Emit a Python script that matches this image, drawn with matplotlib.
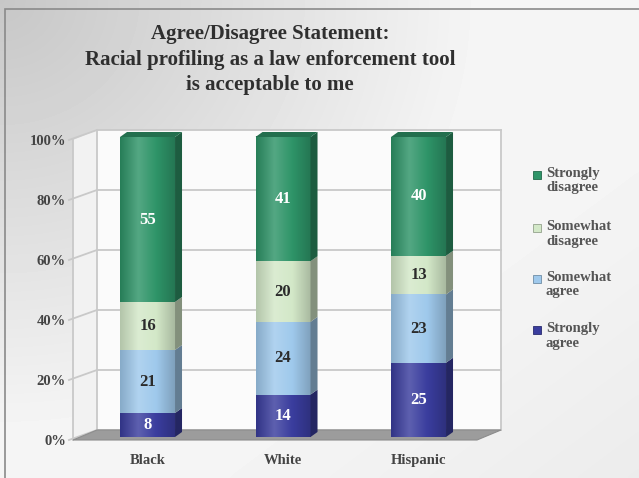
import numpy as np
import matplotlib.pyplot as plt
from matplotlib.colors import LinearSegmentedColormap, to_rgb
from matplotlib.patches import Polygon, Rectangle

# data (percent of respondents)
groups = ['Black', 'White', 'Hispanic']
strongly_agree = [8, 14, 25]
somewhat_agree = [21, 24, 23]
somewhat_disagree = [16, 20, 13]
strongly_disagree = [55, 41, 40]
series_names = ['Strongly\nagree', 'Somewhat\nagree', 'Somewhat\ndisagree', 'Strongly\ndisagree']
series_colors = ['#3a3d9e', '#9fc9ec', '#d3e8c8', '#2e9468']
label_colors = ['white', '#2b2b2b', '#2b2b2b', 'white']
yticks = [0, 20, 40, 60, 80, 100]
title = 'Agree/Disagree Statement:\nRacial profiling as a law enforcement tool\nis acceptable to me'

values = np.array([strongly_agree, somewhat_agree, somewhat_disagree, strongly_disagree], dtype=float)
shares = values / values.sum(axis=0) * 100  # 100% stacked

W, H = 639, 478
fig = plt.figure(figsize=(W / 100, H / 100), dpi=100)
fig.patch.set_facecolor('white')

serif = 'Liberation Serif'

# background gradient panel
bg = fig.add_axes([0, 0, 1, 1], zorder=-5)
gx, gy = np.meshgrid(np.linspace(0, 1, 200), np.linspace(0, 1, 150))
r = np.sqrt((gx / 0.75) ** 2 + (gy / 0.9) ** 2)
shade = 0.78 + 0.18 * np.clip(r, 0, 1) - 0.05 * np.clip(gx + gy - 1.3, 0, 1)
bg.imshow(shade, cmap='gray', vmin=0, vmax=1, extent=(0, 1, 0, 1),
          origin='upper', aspect='auto', interpolation='bicubic')
bg.add_patch(Rectangle((5 / W, -0.1), 1.2, 1.1 - 9 / H, transform=bg.transAxes,
                       fill=False, edgecolor='#8a8a8a', lw=1.2))
bg.set_xlim(0, 1)
bg.set_ylim(0, 1)
bg.axis('off')

# main axes = front plane of the 3d box
x_left, x_right, y_base, y_top = 73, 477, 440, 140
ax = fig.add_axes([x_left / W, (H - y_base) / H, (x_right - x_left) / W, (y_base - y_top) / H])
px_per_cat = 135.5
x0 = -0.55
x1 = x0 + (x_right - x_left) / px_per_cat
ax.set_facecolor('none')
for s in ax.spines.values():
    s.set_visible(False)

py = (y_base - y_top) / 100.0
wdx, wdy = 24 / px_per_cat, 10 / py     # wall depth
bdx, bdy = 7 / px_per_cat, 5 / py       # bar depth
lift = 1.0                              # bars sit slightly back in the box
bar_w = 55 / px_per_cat

# walls
ax.add_patch(Polygon([(x0 + wdx, wdy), (x1 + wdx, wdy), (x1 + wdx, 100 + wdy), (x0 + wdx, 100 + wdy)],
                     closed=True, facecolor='#fbfbfb', edgecolor='none', zorder=0, clip_on=False))
ax.add_patch(Polygon([(x0, 0), (x0 + wdx, wdy), (x0 + wdx, 100 + wdy), (x0, 100)],
                     closed=True, facecolor='#f2f2f2', edgecolor='none', zorder=0, clip_on=False))
grid_col = '#c9c9c9'
for t in yticks:
    ax.plot([x0 + wdx, x1 + wdx], [t + wdy, t + wdy], color=grid_col, lw=1.3, zorder=1, clip_on=False)
    ax.plot([x0 - 0.03, x0 + wdx], [t, t + wdy], color=grid_col, lw=1.3, zorder=1, clip_on=False)
ax.plot([x0, x0], [0, 100], color=grid_col, lw=1.3, zorder=1, clip_on=False)
ax.plot([x0 + wdx, x0 + wdx], [wdy, 100 + wdy], color=grid_col, lw=1.3, zorder=1, clip_on=False)
ax.plot([x1 + wdx, x1 + wdx], [wdy, 100 + wdy], color=grid_col, lw=1.3, zorder=1, clip_on=False)

# floor
ax.add_patch(Polygon([(x0, 0), (x1, 0), (x1 + wdx, wdy), (x0 + wdx, wdy)],
                     closed=True, facecolor='#9c9c9c', edgecolor='#8c8c8c', lw=0.8, zorder=1.5, clip_on=False))


def shade_of(c, f):
    c = np.array(to_rgb(c))
    if f > 1:
        return tuple(c + (1 - c) * (f - 1))
    return tuple(c * f)


# bars
xs = np.arange(len(groups))
bottoms = np.zeros(len(groups)) + lift
for k in range(len(series_names)):
    col = series_colors[k]
    cmap = LinearSegmentedColormap.from_list(
        'g%d' % k, [shade_of(col, 0.85), shade_of(col, 1.18), col, shade_of(col, 0.8)])
    for i, x in enumerate(xs):
        b, h = bottoms[i], shares[k, i]
        xl, xr = x - bar_w / 2, x + bar_w / 2
        grad = np.linspace(0, 1, 64).reshape(1, -1)
        ax.imshow(grad, cmap=cmap, extent=(xl, xr, b, b + h), aspect='auto',
                  interpolation='bicubic', zorder=3, clip_on=False)
        # side face
        ax.add_patch(Polygon([(xr, b), (xr + bdx, b + bdy), (xr + bdx, b + h + bdy), (xr, b + h)],
                             closed=True, facecolor=shade_of(col, 0.62), edgecolor='none',
                             zorder=3.5, clip_on=False))
        if k == len(series_names) - 1:
            ax.add_patch(Polygon([(xl, b + h), (xl + bdx, b + h + bdy), (xr + bdx, b + h + bdy), (xr, b + h)],
                                 closed=True, facecolor=shade_of(col, 0.75), edgecolor='none',
                                 zorder=3.5, clip_on=False))
        ax.text(x, b + h / 2, '%d' % values[k, i], ha='center', va='center',
                fontsize=12, fontweight='bold', family=serif, color=label_colors[k], zorder=5)
    bottoms += shares[k]

ax.set_xlim(x0, x1)
ax.set_ylim(0, 100)
ax.set_yticks(yticks)
ax.set_yticklabels(['%d%%' % t for t in yticks])
ax.set_xticks(xs)
ax.set_xticklabels(groups)
ax.tick_params(axis='y', length=0, pad=5)
ax.tick_params(axis='x', length=0, pad=10)
for lab in ax.get_xticklabels() + ax.get_yticklabels():
    lab.set_fontfamily(serif)
    lab.set_fontweight('bold')
    lab.set_fontsize(10.5)
    lab.set_color('#444444')

# title
fig.text(270 / W, 1 - 24 / H, title, ha='center', va='top', family=serif, fontweight='bold',
         fontsize=15, color='#2f2f2f', linespacing=1.38, multialignment='center')

# legend (top entry = Strongly disagree)
leg_y = [175, 228, 279, 330]
for j, k in enumerate(range(len(series_names) - 1, -1, -1)):
    yy = 1 - leg_y[j] / H
    fig.patches.append(Rectangle((533 / W, yy - 4 / H), 8 / W, 8 / H, transform=fig.transFigure,
                                 facecolor=series_colors[k], edgecolor=shade_of(series_colors[k], 0.7),
                                 lw=0.6, figure=fig))
    fig.text(546 / W, yy + 8 / H, series_names[k], ha='left', va='top', family=serif,
             fontweight='bold', fontsize=10.5, color='#555555', linespacing=1.15)

fig.savefig('out.png', dpi=100)
